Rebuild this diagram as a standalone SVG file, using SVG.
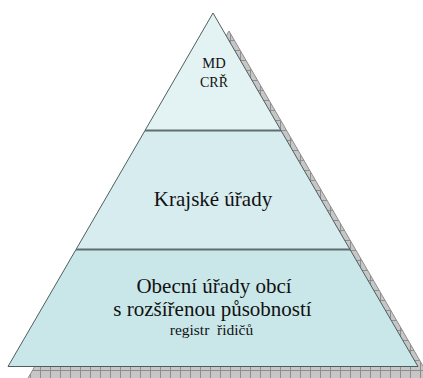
<svg xmlns="http://www.w3.org/2000/svg" width="423" height="378" viewBox="0 0 423 378">
<defs>
<pattern id="grid" x="0" y="0" width="10" height="10" patternUnits="userSpaceOnUse">
<rect width="10" height="10" fill="#c6c6c6"/>
<path d="M0.5 0V10M0 0.5H10" stroke="#8e8e8e" stroke-width="1"/>
</pattern>
<style>
.tier{stroke:#4e5e5e;stroke-width:1}
.sep{stroke:#5f6f6f;stroke-width:2}
.t{fill:#111;text-anchor:middle;font-family:'Liberation Serif','Times New Roman',serif}
</style>
</defs>
<rect width="423" height="378" fill="#ffffff"/>
<g id="shadow">
<polygon points="229,31 24,385 434,385" fill="url(#grid)" stroke="#8e8e8e" stroke-width="1"/>
</g>
<g id="tier-top">
<polygon class="tier" points="213,13 145,130.5 281,130.5" fill="#e3f3f3"/>
<text class="t" x="214" y="68" font-size="14.5">MD</text>
<text class="t" x="214" y="86.5" font-size="14">CRŘ</text>
</g>
<g id="tier-middle">
<polygon class="tier" points="145,130.5 281,130.5 350,249.5 76,249.5" fill="#d7ecef"/>
<text class="t" x="213" y="205.5" font-size="21">Krajské úřady</text>
</g>
<g id="tier-bottom">
<polygon class="tier" points="76,249.5 350,249.5 418,366.5 8,366.5" fill="#c9e7e9"/>
<text class="t" x="214" y="293" font-size="21">Obecní úřady obcí</text>
<text class="t" x="212.5" y="316" font-size="21">s rozšířenou působností</text>
<text class="t" x="211.5" y="335" font-size="15.5" xml:space="preserve">registr  řidičů</text>
</g>
<g id="connectors">
<line class="sep" x1="145" y1="130.5" x2="281" y2="130.5"/>
<line class="sep" x1="76" y1="249.5" x2="350" y2="249.5"/>
</g>
</svg>
